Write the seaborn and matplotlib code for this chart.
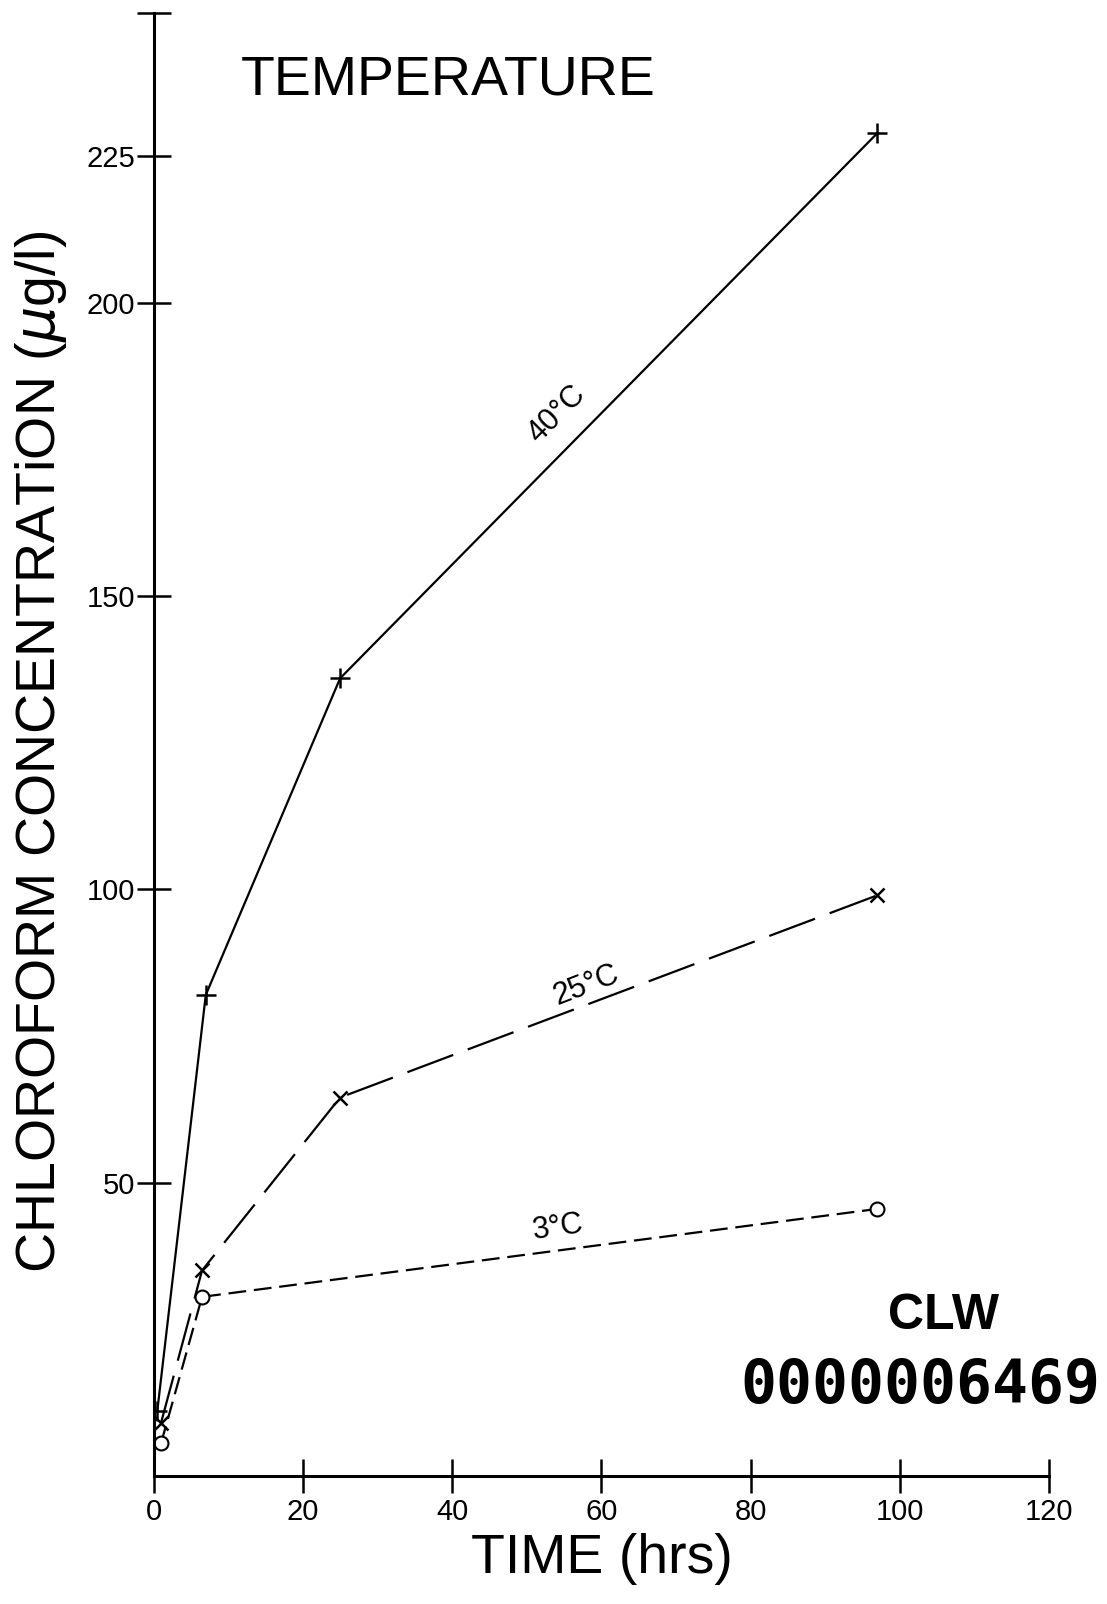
import numpy as np
import pandas as pd
import matplotlib
matplotlib.use("Agg")
import matplotlib.pyplot as plt
import seaborn as sns

# values
time_40 = [0.5, 7, 25, 97]
conc_40 = [11, 82, 136, 229]
time_25 = [1, 6.5, 25, 97]
conc_25 = [9, 35, 64.5, 99]
time_3 = [1, 6.5, 97]
conc_3 = [5.5, 30.5, 45.5]

x_ticks = [0, 20, 40, 60, 80, 100, 120]
y_ticks = [50, 100, 150, 200, 225]

sns.set_style("white")
plt.rcParams['font.family'] = ['Liberation Sans', 'DejaVu Sans']
plt.rcParams['text.color'] = 'black'
plt.rcParams['axes.labelcolor'] = 'black'

fig = plt.figure(figsize=(11.07, 16.04), dpi=100)
ax = fig.add_axes([0.1387, 0.080, 0.809, 0.912])

lw = 1.6
sns.lineplot(x=time_40, y=conc_40, ax=ax, color='black', lw=lw,
             marker='+', markersize=15, markeredgewidth=1.8,
             markeredgecolor='black', sort=False)
sns.lineplot(x=time_25, y=conc_25, ax=ax, color='black', lw=lw,
             linestyle=(0, (22, 7)), marker='x', markersize=10,
             markeredgewidth=1.8, markeredgecolor='black', sort=False)
sns.lineplot(x=time_3, y=conc_3, ax=ax, color='black', lw=lw,
             linestyle=(0, (8, 3.5)), marker='o', markersize=10,
             markerfacecolor='white', markeredgecolor='black',
             markeredgewidth=1.5, sort=False)

ax.set_xlim(0, 120)
ax.set_ylim(0, 249.5)
ax.set_xticks(x_ticks)
ax.set_xticklabels([str(t) for t in x_ticks], fontsize=21)
ax.set_yticks(y_ticks + [249.5])
ax.set_yticklabels([str(t) for t in y_ticks] + [''], fontsize=21)
ax.tick_params(axis='both', direction='inout', length=24, width=1.8,
               color='black', labelcolor='black', bottom=True, left=True)
ax.tick_params(axis='y', pad=1)
ax.tick_params(axis='x', pad=4)

for side in ['top', 'right']:
    ax.spines[side].set_visible(False)
for side in ['left', 'bottom']:
    ax.spines[side].set_linewidth(2.2)
    ax.spines[side].set_color('black')

# curve labels
ax.text(54, 181, '40°C', rotation=45, fontsize=22, ha='center', va='center')
ax.text(58, 83.7, '25°C', rotation=21, fontsize=22, ha='center', va='center')
ax.text(54.2, 42.4, '3°C', rotation=8, fontsize=22, ha='center', va='center')

ax.text(11.7, 235.5, 'TEMPERATURE', fontsize=40, ha='left', va='baseline')
ax.text(105.9, 25, 'CLW', fontsize=36, fontweight='bold', ha='center',
        va='baseline')
ax.text(102.8, 12.4, '0000006469', fontsize=43, fontweight='bold',
        family='DejaVu Sans Mono', ha='center', va='baseline')

fig.text(41 / 1107, 1 - 752 / 1604, 'CHLOROFORM CONCENTRATiON ($\\mu$g/l)',
         rotation=90, fontsize=40, ha='center', va='center')
fig.text(601.5 / 1107, 1 - 1559 / 1604, 'TIME (hrs)', fontsize=40,
         ha='center', va='center')

fig.savefig('out.png', dpi=100, facecolor='white')
